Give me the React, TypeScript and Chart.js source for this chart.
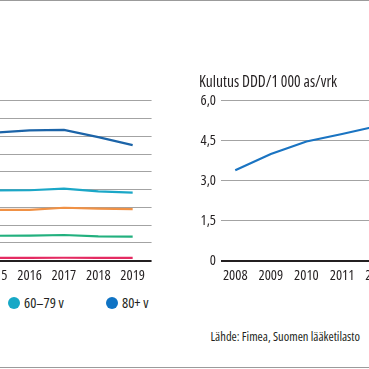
import React, { useEffect, useRef } from "react";
import { Chart, registerables } from "chart.js";

Chart.register(...registerables);

const FAMILY = "'Open Sans', sans-serif";
const CANVAS_WEIGHT = "400 condensed"; // font-stretch condensed inside the canvas font shorthand
const TEXT = "#231f20";
const GRID = "#a3a3a3";
const tickFont = { family: FAMILY, size: 14.5, weight: CANVAS_WEIGHT } as any;

// Left chart: consumption by age group (only 2015–2019 visible in the crop)
const ageYears = [2015, 2016, 2017, 2018, 2019];
const ageLabels = ["0–19 v", "20–39 v", "40–59 v", "60–79 v", "80+ v"];
const ageColors = ["#e42b62", "#22b07e", "#f09145", "#1ba7c7", "#1c64a8"];
const age0_19 = [0.3, 0.3, 0.32, 0.3, 0.3];
const age20_39 = [2.8, 2.82, 2.88, 2.72, 2.7];
const age40_59 = [5.7, 5.72, 5.95, 5.85, 5.8];
const age60_79 = [7.9, 7.92, 8.1, 7.8, 7.66];
const age80 = [14.4, 14.65, 14.72, 13.9, 13.0];
const ageSeries = [age0_19, age20_39, age40_59, age60_79, age80];
const ageTicks = [0, 2, 4, 6, 8, 10, 12, 14, 16, 18];

// Right chart: total consumption (only 2008–2012 visible in the crop)
const totalYears = [2008, 2009, 2010, 2011, 2012];
const totalValues = [3.39, 4.0, 4.47, 4.75, 5.05];
const totalTicks = [0, 1.5, 3, 4.5, 6];
const totalColor = "#1a74c2";
const totalTitle = "Kulutus DDD/1 000 as/vrk";

const legendItems = [
  { label: "60–79 v", color: "#17a8c6" },
  { label: "80+ v", color: "#0f73c4" },
];
const sourceText = "Lähde: Fimea, Suomen lääketilasto";

const gridColor = (ctx: any) => (ctx.tick && ctx.tick.value === 0 ? TEXT : GRID);
const gridWidth = (ctx: any) => (ctx.tick && ctx.tick.value === 0 ? 2 : 1);

function makeOptions(xMin: number, xMax: number, yTicks: number[], yFormat: (v: number) => string) {
  return {
    animation: false,
    responsive: false,
    maintainAspectRatio: false,
    layout: { padding: { top: 0, right: 0, bottom: 0, left: 0 } },
    plugins: { legend: { display: false }, tooltip: { enabled: false } },
    scales: {
      x: {
        type: "linear",
        min: xMin,
        max: xMax,
        grid: { display: false, drawTicks: false },
        border: { display: false },
        ticks: {
          stepSize: 1,
          includeBounds: false,
          padding: 7,
          color: TEXT,
          font: tickFont,
          maxRotation: 0,
          autoSkip: false,
          callback: (v: any) => String(v),
        },
      },
      y: {
        min: yTicks[0],
        max: yTicks[yTicks.length - 1],
        grid: { color: gridColor, lineWidth: gridWidth, drawTicks: false },
        border: { display: false },
        ticks: {
          padding: 5,
          color: TEXT,
          font: tickFont,
          autoSkip: false,
          callback: (v: any) => yFormat(Number(v)),
        },
        afterBuildTicks: (s: any) => {
          s.ticks = yTicks.map((value) => ({ value }));
        },
        afterFit: (s: any) => {
          s.width = 40;
        },
      },
    },
  } as any;
}

function AgeChart() {
  const ref = useRef<HTMLCanvasElement | null>(null);
  useEffect(() => {
    if (!ref.current) return;
    const chart = new Chart(ref.current, {
      type: "line",
      data: {
        datasets: ageSeries.map((vals, i) => ({
          label: ageLabels[i],
          data: ageYears.map((x, j) => ({ x, y: vals[j] })),
          borderColor: ageColors[i],
          backgroundColor: ageColors[i],
          borderWidth: 2.2,
          pointRadius: 0,
          tension: 0,
        })),
      },
      options: makeOptions(2014.5, 2019.55, ageTicks, (v) => String(v)),
    } as any);
    return () => chart.destroy();
  }, []);
  return (
    <canvas
      ref={ref}
      width={214}
      height={205}
      style={{ position: "absolute", left: -62, top: 87, width: 214, height: 205 }}
    />
  );
}

function TotalChart() {
  const ref = useRef<HTMLCanvasElement | null>(null);
  useEffect(() => {
    if (!ref.current) return;
    const chart = new Chart(ref.current, {
      type: "line",
      data: {
        datasets: [
          {
            label: totalTitle,
            data: totalYears.map((x, j) => ({ x, y: totalValues[j] })),
            borderColor: totalColor,
            backgroundColor: totalColor,
            borderWidth: 2.2,
            pointRadius: 0,
            tension: 0,
          },
        ],
      },
      options: makeOptions(2007.6, 2012.5, totalTicks, (v) => (v === 0 ? "0" : v.toFixed(1).replace(".", ","))),
    } as any);
    return () => chart.destroy();
  }, []);
  return (
    <canvas
      ref={ref}
      width={216}
      height={205}
      style={{ position: "absolute", left: 181, top: 87, width: 216, height: 205 }}
    />
  );
}

const htmlFont = { fontFamily: FAMILY, fontStretch: "75%" } as any;

export default function App() {
  return (
    <div
      style={{
        position: "fixed",
        left: 0,
        top: 0,
        width: 369,
        height: 369,
        overflow: "hidden",
        background: "#ffffff",
        color: TEXT,
        ...htmlFont,
      }}
    >
      <div style={{ position: "absolute", left: 0, top: 0, width: 369, height: 1, background: "#9b9b9b" }} />
      <AgeChart />
      <TotalChart />
      <div
        style={{
          position: "absolute",
          left: 199,
          top: 72,
          fontSize: 15.5,
          lineHeight: "18px",
          whiteSpace: "nowrap",
        }}
      >
        {totalTitle}
      </div>
      {legendItems.map((it, i) => (
        <div
          key={it.label}
          style={{
            position: "absolute",
            left: i === 0 ? 8 : 106,
            top: 295,
            height: 16,
            display: "flex",
            alignItems: "center",
            whiteSpace: "nowrap",
          }}
        >
          <span
            style={{
              display: "inline-block",
              width: 12,
              height: 12,
              borderRadius: "50%",
              background: it.color,
              marginRight: 4,
            }}
          />
          <span style={{ fontSize: 14.5, lineHeight: "16px" }}>{it.label}</span>
        </div>
      ))}
      <div
        style={{
          position: "absolute",
          right: 9,
          top: 330,
          fontSize: 12.5,
          lineHeight: "14px",
          whiteSpace: "nowrap",
        }}
      >
        {sourceText}
      </div>
      <div style={{ position: "absolute", left: 0, top: 367, width: 369, height: 1, background: "#9b9b9b" }} />
    </div>
  );
}
